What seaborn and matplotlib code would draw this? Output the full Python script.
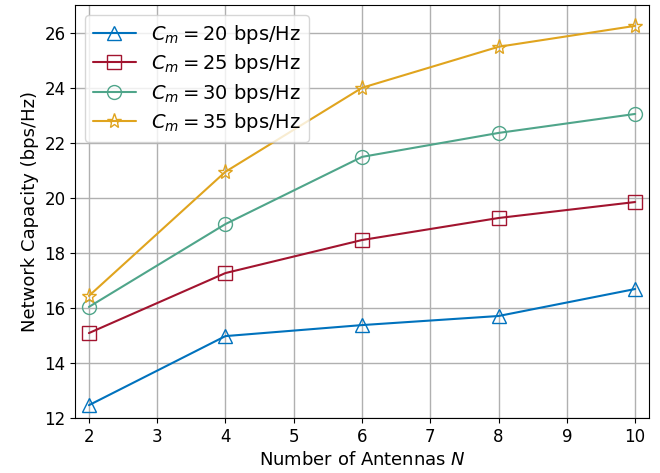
import matplotlib
matplotlib.use("Agg")
import matplotlib.pyplot as plt
import seaborn as sns
import pandas as pd

antennas = [2, 4, 6, 8, 10]
cap_20 = [12.47, 14.98, 15.38, 15.71, 16.69]
cap_25 = [15.09, 17.27, 18.47, 19.27, 19.85]
cap_30 = [16.04, 19.05, 21.49, 22.36, 23.05]
cap_35 = [16.44, 20.95, 24.0, 25.49, 26.25]
labels = [r"$C_m = 20$ bps/Hz", r"$C_m = 25$ bps/Hz", r"$C_m = 30$ bps/Hz", r"$C_m = 35$ bps/Hz"]

sns.set_style("ticks")
plt.rcParams['font.family'] = ['DejaVu Sans']
plt.rcParams['mathtext.fontset'] = 'dejavusans'
plt.rcParams['text.color'] = 'black'
plt.rcParams['axes.labelcolor'] = 'black'
plt.rcParams['xtick.color'] = 'black'
plt.rcParams['ytick.color'] = 'black'

colors = ["#0072BD", "#A2142F", "#4FA58A", "#E0A41E"]
markers = ["^", "s", "o", "*"]
msizes = [10, 10, 10, 11]

fig, ax = plt.subplots(figsize=(6.6, 4.73), dpi=100)
for vals, lab, c, m, ms in zip([cap_20, cap_25, cap_30, cap_35], labels, colors, markers, msizes):
    df = pd.DataFrame({"N": antennas, "C": vals})
    sns.lineplot(data=df, x="N", y="C", ax=ax, color=c, marker=m, markersize=ms,
                 markerfacecolor="none", markeredgecolor=c, markeredgewidth=1.0,
                 linewidth=1.5, label=lab)

ax.set_xlim(1.8, 10.2)
ax.set_ylim(12, 27)
ax.set_xticks(range(2, 11))
ax.set_yticks(range(12, 27, 2))
ax.grid(True, color="#b0b0b0", linewidth=1.0)
ax.set_xlabel(r"Number of Antennas $N$", fontsize=13)
ax.set_ylabel("Network Capacity (bps/Hz)", fontsize=13)
ax.tick_params(labelsize=12, direction="out")
for s in ax.spines.values():
    s.set_visible(True)
    s.set_color("black")
leg = ax.legend(loc="upper left", fontsize=14, handlelength=2.2, framealpha=0.8,
                borderaxespad=0.5, labelspacing=0.33)
fig.subplots_adjust(left=0.114, right=0.983, bottom=0.116, top=0.989)
fig.savefig("out.png", dpi=100)
